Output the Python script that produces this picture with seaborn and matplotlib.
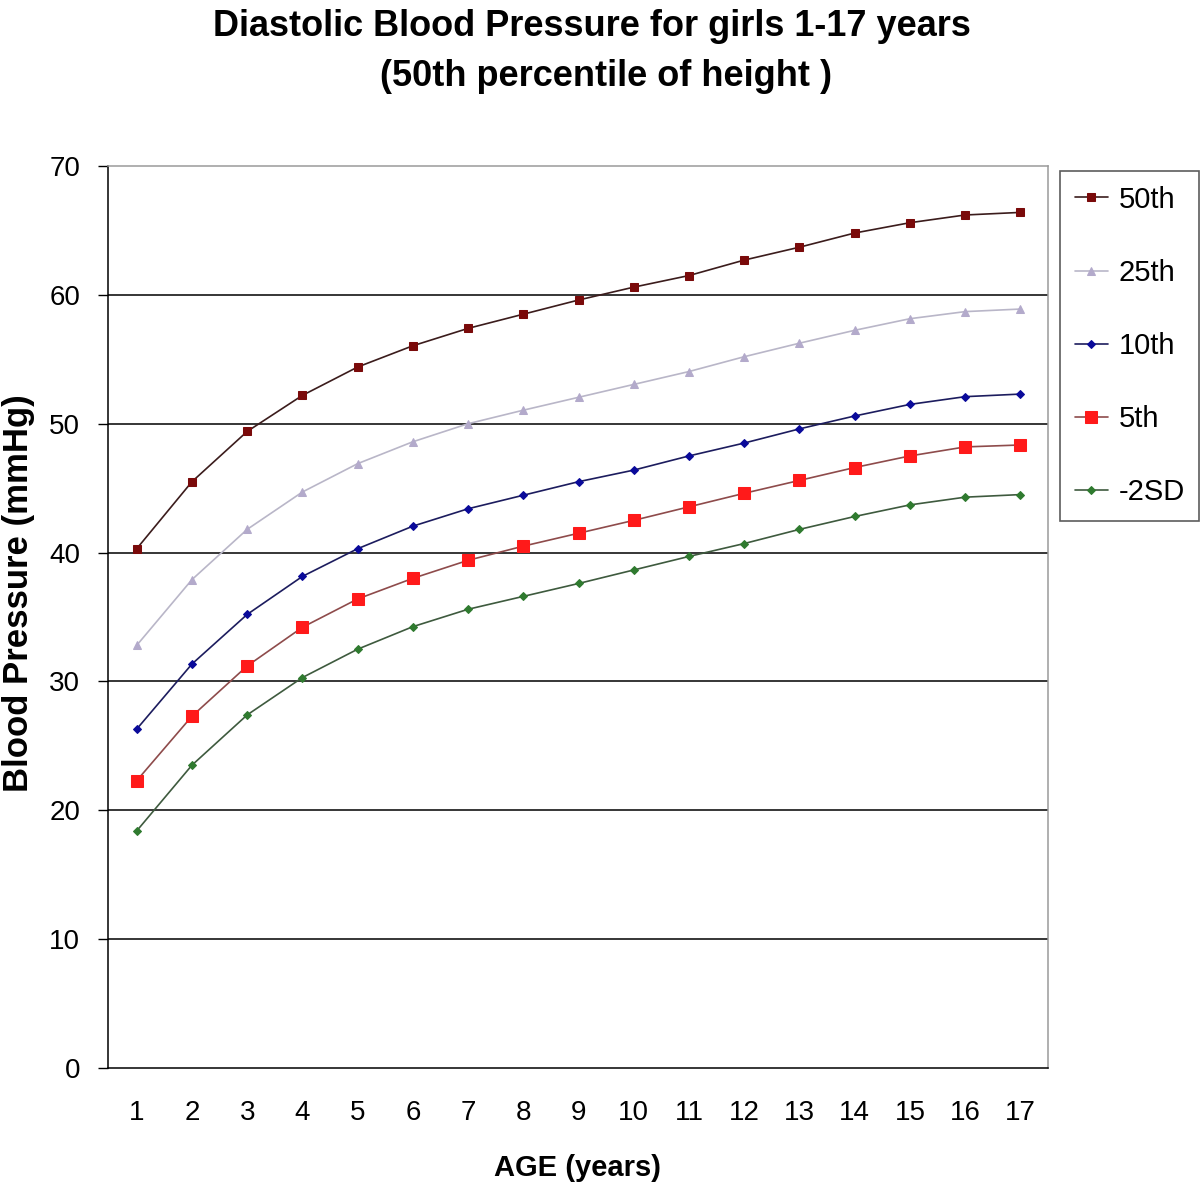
import numpy as np
import pandas as pd
import matplotlib
matplotlib.use("Agg")
import matplotlib.pyplot as plt
import seaborn as sns

# Values (diastolic BP, girls, 50th percentile of height)
ages = list(range(1, 18))
bp_50th = [40.3, 45.5, 49.4, 52.2, 54.4, 56.05, 57.4, 58.5, 59.6, 60.6, 61.5, 62.7, 63.7, 64.8, 65.6, 66.2, 66.4]
bp_25th = [32.8, 37.9, 41.8, 44.7, 46.9, 48.6, 50.0, 51.05, 52.05, 53.05, 54.05, 55.2, 56.25, 57.25, 58.15, 58.7, 58.9]
bp_10th = [26.3, 31.35, 35.2, 38.15, 40.3, 42.05, 43.4, 44.45, 45.5, 46.4, 47.5, 48.5, 49.6, 50.6, 51.5, 52.1, 52.3]
bp_5th = [22.3, 27.3, 31.2, 34.2, 36.4, 38.0, 39.4, 40.5, 41.5, 42.5, 43.55, 44.6, 45.6, 46.6, 47.5, 48.2, 48.35]
bp_minus2sd = [18.4, 23.5, 27.4, 30.3, 32.5, 34.25, 35.6, 36.6, 37.6, 38.65, 39.7, 40.7, 41.8, 42.8, 43.7, 44.3, 44.5]

series_names = ["50th", "25th", "10th", "5th", "-2SD"]
series_values = [bp_50th, bp_25th, bp_10th, bp_5th, bp_minus2sd]

# line colour, marker colour, marker, marker size
styles = {
    "50th": ("#3b1c1c", "#7a0a0a", "s", 5.5),
    "25th": ("#b9b6c8", "#b3aacb", "^", 6),
    "10th": ("#1c1c5e", "#0a0a9a", "D", 4.5),
    "5th": ("#8e4b4b", "#ff1a1a", "s", 8.5),
    "-2SD": ("#3e5a3e", "#2f7a2f", "D", 4.5),
}

df = pd.DataFrame({
    "Age": ages * len(series_names),
    "BP": sum(series_values, []),
    "Series": sum([[n] * len(ages) for n in series_names], []),
})

sns.set_style("white")
plt.rcParams["font.family"] = ["Liberation Sans", "DejaVu Sans"]
plt.rcParams["text.color"] = "black"
plt.rcParams["axes.labelcolor"] = "black"
plt.rcParams["xtick.color"] = "black"
plt.rcParams["ytick.color"] = "black"

fig = plt.figure(figsize=(12, 11.91), dpi=100)
ax = fig.add_axes([0.09, 0.1033, 0.7833, 0.7573])

for name in series_names:
    line_c, mk_c, mk, ms = styles[name]
    sns.lineplot(data=df[df["Series"] == name], x="Age", y="BP", ax=ax,
                 color=line_c, linewidth=1.2, marker=mk, markersize=ms,
                 markerfacecolor=mk_c, markeredgecolor=mk_c, label=name)

ax.set_xlim(0.48, 17.45)
ax.set_ylim(0, 70)
ax.set_yticks(range(0, 71, 10))
ax.set_xticks(ages)
ax.set_xticks(np.arange(0.5, 18, 1), minor=True)
ax.tick_params(axis="x", which="major", length=0, labelsize=20, pad=23)
ax.tick_params(axis="x", which="minor", length=7, width=1, color="black", direction="out")
ax.tick_params(axis="y", length=7, width=1, color="black", direction="out", labelsize=20, left=True, pad=13)

for y in range(10, 61, 10):
    ax.axhline(y, color="black", linewidth=1.1, zorder=0)

ax.spines["left"].set_color("black")
ax.spines["bottom"].set_color("black")
ax.spines["top"].set_color("#9a9a9a")
ax.spines["right"].set_color("#9a9a9a")
for s in ax.spines.values():
    s.set_linewidth(1.1)

ax.set_xlabel("AGE (years)", fontsize=21, fontweight="bold", labelpad=20)
ax.set_ylabel("Blood Pressure (mmHg)", fontsize=25, fontweight="bold")
ax.yaxis.set_label_coords(-0.078, 0.527)

fig.text(0.493, 1 - 27 / 1191, "Diastolic Blood Pressure for girls 1-17 years",
         fontsize=26, fontweight="bold", ha="center", va="center")
fig.text(0.505, 1 - 76 / 1191, "(50th percentile of height )",
         fontsize=26, fontweight="bold", ha="center", va="center")

ax.get_legend().remove()
handles, labels = ax.get_legend_handles_labels()
leg = fig.legend(handles, labels, loc="upper left", bbox_to_anchor=(1060 / 1200, 1 - 171 / 1191),
                 fontsize=21, frameon=True, fancybox=False, edgecolor="#333333",
                 handlelength=1.15, handletextpad=0.35, borderpad=0.5, labelspacing=1.55,
                 borderaxespad=0)
leg.get_frame().set_linewidth(1.2)

fig.savefig("out.png", dpi=100, facecolor="white")
